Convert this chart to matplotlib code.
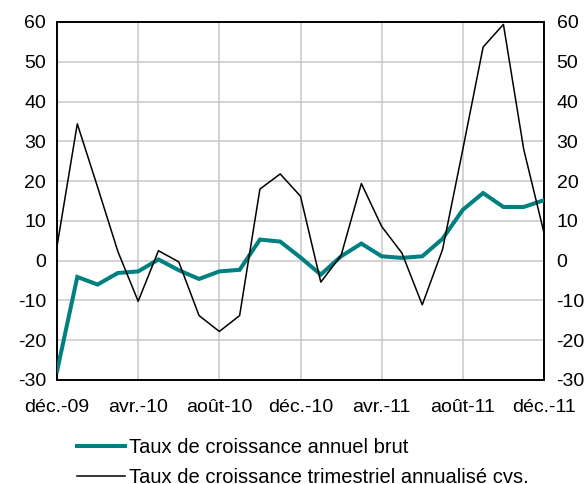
import matplotlib
matplotlib.use("Agg")
import matplotlib.pyplot as plt
import numpy as np

plt.rcParams['font.family'] = ['Liberation Sans', 'DejaVu Sans']
plt.rcParams['axes.unicode_minus'] = False

months = ["déc.-09", "janv.-10", "févr.-10", "mars-10", "avr.-10", "mai-10", "juin-10",
          "juil.-10", "août-10", "sept.-10", "oct.-10", "nov.-10", "déc.-10",
          "janv.-11", "févr.-11", "mars-11", "avr.-11", "mai-11", "juin-11",
          "juil.-11", "août-11", "sept.-11", "oct.-11", "nov.-11", "déc.-11"]
annuel_brut = [-27.8, -4.1, -6.0, -3.1, -2.7, 0.3, -2.4, -4.6, -2.7, -2.3, 5.3, 4.8,
               0.8, -3.5, 1.1, 4.3, 1.1, 0.7, 1.1, 5.5, 12.8, 17.0, 13.5, 13.5, 15.2]
trim_annualise = [3.6, 34.4, 18.5, 2.3, -10.2, 2.5, -0.3, -13.8, -17.8, -13.8, 18.0, 21.8,
                  16.2, -5.4, 1.3, 19.4, 8.6, 1.9, -11.1, 2.8, 28.0, 53.7, 59.4, 28.0, 7.0]
labels = ["Taux de croissance annuel brut", "Taux de croissance trimestriel annualisé cvs."]
yticks = [-30, -20, -10, 0, 10, 20, 30, 40, 50, 60]

fig = plt.figure(figsize=(5.88, 4.84), dpi=100)
ax = fig.add_axes([57/588, 1-380/484, (544-57)/588, (380-22)/484])
x = np.arange(len(months))
l1, = ax.plot(x, annuel_brut, color='#008080', lw=2.9, solid_joinstyle='miter', zorder=3)
l2, = ax.plot(x, trim_annualise, color='black', lw=1.1, zorder=4)
ax.set_xlim(0, len(months)-1)
ax.set_ylim(-30, 60)
ax.set_yticks(yticks)
ax.set_xticks(x[::4])
ax.set_xticklabels(months[::4])
ax.grid(True, color='#c8c8c8', lw=1.1)
ax.set_axisbelow(True)
for s in ax.spines.values():
    s.set_linewidth(1.4)
    s.set_color('black')
ax.tick_params(length=0, labelsize=14, pad=8)
ax.tick_params(axis='x', pad=14)
ax2 = ax.twinx()
ax2.set_ylim(-30, 60)
ax2.set_yticks(yticks)
ax2.tick_params(length=0, labelsize=14, pad=9)
for s in ax2.spines.values():
    s.set_visible(False)

fig.legend([l1, l2], labels, loc='upper left', bbox_to_anchor=(77/588, 1-438/484),
           frameon=False, fontsize=14.5, handlelength=2.4, handletextpad=0.2,
           labelspacing=0.55, borderpad=0, borderaxespad=0)
fig.savefig('out.png', dpi=100)
